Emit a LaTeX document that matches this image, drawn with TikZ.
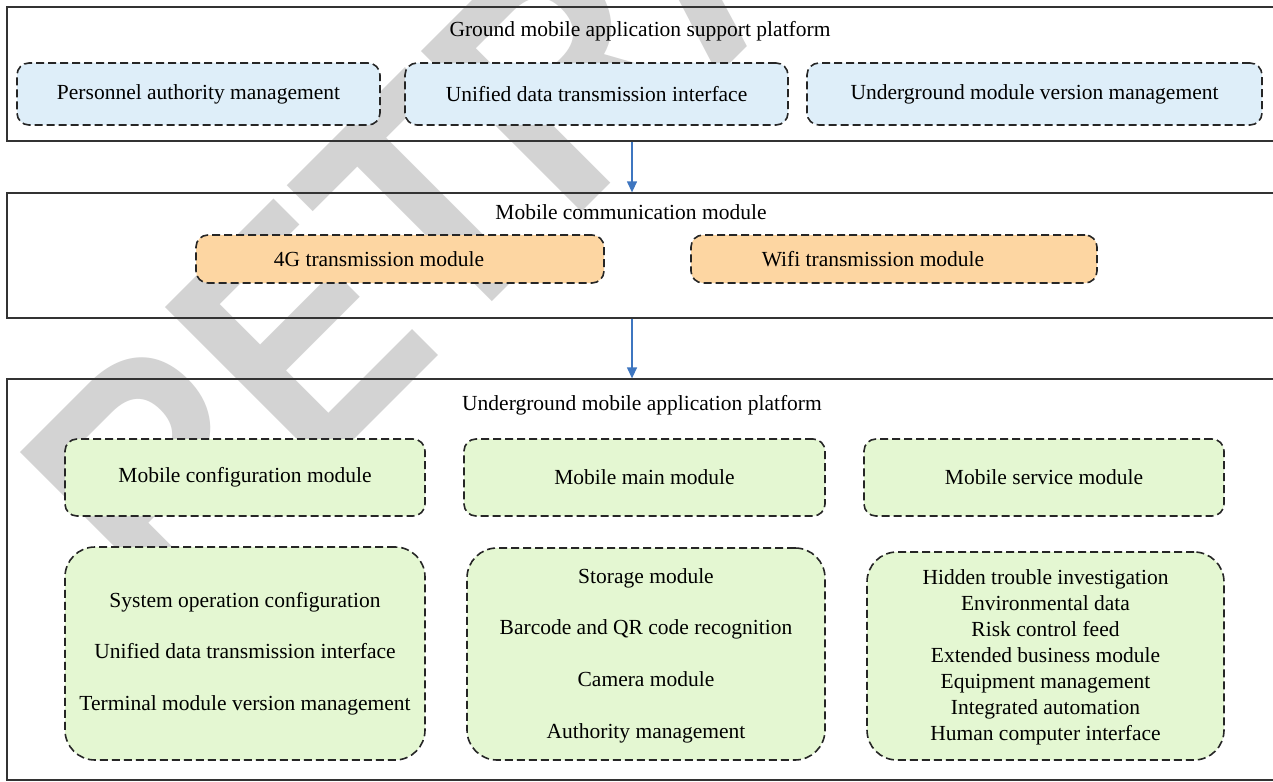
\documentclass[tikz,border=0pt]{standalone}
\usepackage{graphicx}
\usepackage{fontspec}
\setmainfont{Liberation Serif}
\newfontfamily\wmfont{Liberation Sans}
\usetikzlibrary{arrows.meta}
\definecolor{bluefill}{HTML}{DEEEF9}
\definecolor{orangefill}{HTML}{FDD6A2}
\definecolor{greenfill}{HTML}{E4F7D2}
\definecolor{framecol}{HTML}{333333}
\definecolor{arrowcol}{HTML}{3E76C0}
\definecolor{wmgray}{HTML}{D3D3D3}
\begin{document}
\begin{tikzpicture}[x=1pt,y=-1pt,
  frame/.style={draw=framecol, line width=1.3pt, inner sep=0pt},
  dbox/.style={draw=black!85, dash pattern=on 8pt off 4pt, line width=1.6pt, rounded corners=12pt, inner sep=0pt, font=\fontsize{21.5}{26}\selectfont},
  bigbox/.style={dbox, rounded corners=30pt},
  txt/.style={inner sep=0pt, font=\fontsize{21.5}{26}\selectfont, align=center},
  conn/.style={draw=arrowcol, line width=1.3pt, -{Triangle[length=11pt,width=10pt]}}
]
\useasboundingbox (0,0) rectangle (1273,781);
\clip (0,0) rectangle (1273,781);
\fill[white] (0,0) rectangle (1273,781);
% watermark
\node[font=\wmfont\bfseries\fontsize{330}{330}\selectfont, text=wmgray, rotate=45, anchor=base west, inner sep=0pt] (wm) at (167,627) {\scalebox{0.86}[1]{RETRACTED}};

% frames
\node[frame, minimum width=1293pt, minimum height=134pt] (top) at (653.5,74) {};
\node[frame, minimum width=1293pt, minimum height=125pt] (mid) at (653.5,255.5) {};
\node[frame, minimum width=1293pt, minimum height=401pt] (bot) at (653.5,579.5) {};

% titles
\node[txt, anchor=base] (ttop) at (640,37) {Ground mobile application support platform};
\node[txt, anchor=base] (tmid) at (631,219) {Mobile communication module};
\node[txt, anchor=base] (tbot) at (642,410) {Underground mobile application platform};

% ground boxes
\node[dbox, fill=bluefill, minimum width=363pt, minimum height=62pt] (pam) at (198.5,94) {Personnel authority management};
\node[dbox, fill=bluefill, minimum width=383pt, minimum height=62pt] (udti) at (596.5,94) {Unified data transmission interface};
\node[dbox, fill=bluefill, minimum width=455pt, minimum height=62pt] (umvm) at (1034.5,94) {Underground module version management};

% communication boxes
\node[dbox, fill=orangefill, minimum width=408pt, minimum height=48pt] (g4) at (400,259) {};
\node[txt] (g4t) at ([xshift=-21pt]g4.center) {4G transmission module};
\node[dbox, fill=orangefill, minimum width=406pt, minimum height=48pt] (wifi) at (894,259) {};
\node[txt] (wifit) at ([xshift=-21pt]wifi.center) {Wifi transmission module};

% underground boxes
\node[dbox, fill=greenfill, minimum width=360pt, minimum height=77pt] (mcm) at (245,477.5) {Mobile configuration module};
\node[dbox, fill=greenfill, minimum width=361pt, minimum height=77pt] (mmm) at (644.5,477.5) {Mobile main module};
\node[dbox, fill=greenfill, minimum width=360pt, minimum height=77pt] (msm) at (1044,477.5) {Mobile service module};

\node[bigbox, fill=greenfill, minimum width=360pt, minimum height=213pt] (l1) at (245,653.5) {};
\node[txt, font=\fontsize{21.5}{51.5}\selectfont] (l1t) at (245,653.5) {System operation configuration\\Unified data transmission interface\\Terminal module version management};
\node[bigbox, fill=greenfill, minimum width=358pt, minimum height=212pt] (l2) at (646,654) {};
\node[txt, font=\fontsize{21.5}{51.7}\selectfont] (l2t) at (646,655.6) {Storage module\\Barcode and QR code recognition\\Camera module\\Authority management};
\node[bigbox, fill=greenfill, minimum width=357pt, minimum height=208pt] (l3) at (1045.5,656) {};
\node[txt, font=\fontsize{21.5}{26}\selectfont] (l3t) at (1045.5,657) {Hidden trouble investigation\\Environmental data\\Risk control feed\\Extended business module\\Equipment management\\Integrated automation\\Human computer interface};

% connectors
\coordinate (ax) at (632,0);
\draw[conn] (top.south -| ax) -- (mid.north -| ax);
\draw[conn] (mid.south -| ax) -- (bot.north -| ax);
\end{tikzpicture}
\end{document}
